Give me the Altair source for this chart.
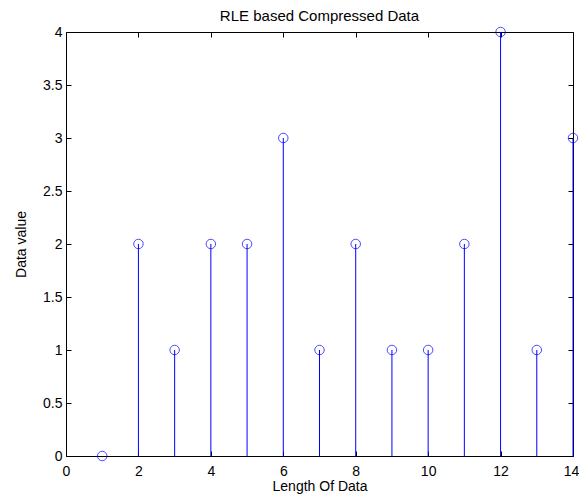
import altair as alt
import pandas as pd

positions = list(range(1, 15))
values = [0, 2, 1, 2, 2, 3, 1, 2, 1, 1, 2, 4, 1, 3]
x_ticks = [0, 2, 4, 6, 8, 10, 12, 14]
y_ticks = [0, 0.5, 1, 1.5, 2, 2.5, 3, 3.5, 4]

df = pd.DataFrame({"pos": positions, "val": values})
FONT = "Liberation Sans"
inner = {"expr": "-5"}

xs = alt.Scale(domain=[0, 14], nice=False, zero=False)
ys = alt.Scale(domain=[0, 4], nice=False, zero=False)

stems = alt.Chart(df).mark_rule(color="#0000ff", strokeWidth=1).encode(
    x=alt.X("pos:Q", scale=xs, title="Length Of Data",
            axis=alt.Axis(values=x_ticks, tickSize=inner, labelPadding=13,
                          labelFlush=False, format="~g",
                          labelOffset={"condition": {"test": "datum.value == 14", "value": -2}, "value": 0},
                          grid=False, domainColor="black", tickColor="black",
                          labelFont=FONT, labelFontSize=14, labelColor="black",
                          titleFont=FONT, titleFontSize=14, titleFontWeight="normal",
                          titleColor="black", titlePadding=1)),
    y=alt.Y("val:Q", scale=ys, title="Data value",
            axis=alt.Axis(values=y_ticks, tickSize=inner, labelPadding=9,
                          labelFlush=False, format="~g",
                          grid=False, domainColor="black", tickColor="black",
                          labelFont=FONT, labelFontSize=14, labelColor="black",
                          titleFont=FONT, titleFontSize=14, titleFontWeight="normal",
                          titleColor="black", titlePadding=14)),
    y2=alt.datum(0),
)

points = alt.Chart(df).mark_point(shape="circle", filled=False, color="#0000ff",
                                  size=90, strokeWidth=1, clip=False).encode(
    x=alt.X("pos:Q", scale=xs,
            axis=alt.Axis(orient="top", values=x_ticks, labels=False, title=None,
                          tickSize=inner, grid=False, domainColor="black",
                          tickColor="black")),
    y=alt.Y("val:Q", scale=ys,
            axis=alt.Axis(orient="right", values=y_ticks, labels=False, title=None,
                          tickSize=inner, grid=False, domainColor="black",
                          tickColor="black")),
)

chart = alt.layer(stems, points).resolve_axis(
    x="independent", y="independent"
).properties(
    width=507, height=424,
    title=alt.TitleParams("RLE based Compressed Data", font=FONT, fontSize=15,
                          fontWeight="normal", color="black", offset=1.5),
    autosize=alt.AutoSizeParams(type="none"),
    padding={"left": 58, "top": 24, "right": 6, "bottom": 38},
).configure_view(stroke="black", strokeWidth=1).configure(background="white")

chart.save("out.html", embed_options={"renderer": "svg", "actions": False})
